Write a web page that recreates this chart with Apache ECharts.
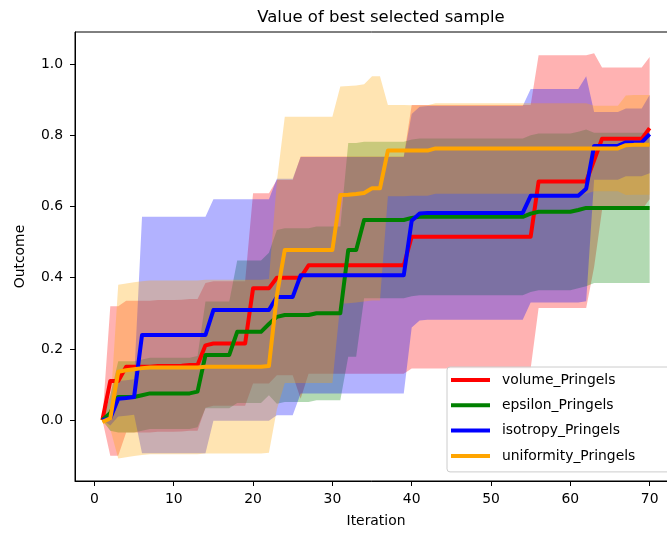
<!DOCTYPE html>
<html lang="en">
<head>
  <meta charset="UTF-8">
  <title>Value of best selected sample</title>
  <script src="https://cdn.jsdelivr.net/npm/echarts@6/dist/echarts.min.js"></script>
  <style>
    html, body { margin: 0; padding: 0; background: #fff; }
    #main { width: 667px; height: 534px; }
  </style>
</head>
<body>
  <div id="main"></div>
  <script>
    // iterations 1..70
    var iterations = [];
    for (var i = 1; i <= 70; i++) iterations.push(i);

    var names = ['volume_Pringels', 'epsilon_Pringels', 'isotropy_Pringels', 'uniformity_Pringels'];
    var colors = ['#ff0000', '#008000', '#0000ff', '#ffa500'];
    var fills = ['rgba(255,0,0,0.3)', 'rgba(0,128,0,0.3)', 'rgba(0,0,255,0.3)', 'rgba(255,165,0,0.3)'];

    var xTicks = [0, 10, 20, 30, 40, 50, 60, 70];
    var yTicks = [0, 0.2, 0.4, 0.6, 0.8, 1.0];

    // mean of best outcome per iteration
    var volumeMean = [0.00, 0.11, 0.11, 0.15, 0.15, 0.15, 0.15, 0.152, 0.152, 0.152,
      0.153, 0.155, 0.155, 0.21, 0.215, 0.215, 0.215, 0.215, 0.215, 0.37,
      0.37, 0.37, 0.40, 0.40, 0.40, 0.40, 0.435, 0.435, 0.435, 0.435,
      0.435, 0.435, 0.435, 0.435, 0.435, 0.435, 0.435, 0.435, 0.435, 0.515,
      0.515, 0.515, 0.515, 0.515, 0.515, 0.515, 0.515, 0.515, 0.515, 0.515,
      0.515, 0.515, 0.515, 0.515, 0.515, 0.67, 0.67, 0.67, 0.67, 0.67,
      0.67, 0.67, 0.73, 0.79, 0.79, 0.79, 0.79, 0.79, 0.79, 0.82];
    var epsilonMean = [0.00, 0.02, 0.065, 0.065, 0.065, 0.07, 0.075, 0.075, 0.075, 0.075,
      0.075, 0.075, 0.08, 0.183, 0.183, 0.183, 0.183, 0.248, 0.248, 0.248,
      0.248, 0.27, 0.29, 0.295, 0.295, 0.295, 0.295, 0.30, 0.30, 0.30,
      0.30, 0.478, 0.478, 0.562, 0.562, 0.562, 0.562, 0.562, 0.562, 0.568,
      0.571, 0.571, 0.571, 0.571, 0.571, 0.571, 0.571, 0.571, 0.571, 0.571,
      0.571, 0.571, 0.571, 0.571, 0.58, 0.585, 0.585, 0.585, 0.585, 0.585,
      0.59, 0.596, 0.596, 0.596, 0.596, 0.596, 0.596, 0.596, 0.596, 0.596];
    var isotropyMean = [0.00, 0.005, 0.06, 0.062, 0.065, 0.239, 0.239, 0.239, 0.239, 0.239,
      0.239, 0.239, 0.239, 0.239, 0.309, 0.309, 0.309, 0.309, 0.309, 0.309,
      0.309, 0.309, 0.346, 0.346, 0.346, 0.407, 0.407, 0.407, 0.407, 0.407,
      0.407, 0.407, 0.407, 0.407, 0.407, 0.407, 0.407, 0.407, 0.407, 0.56,
      0.58, 0.582, 0.582, 0.582, 0.582, 0.582, 0.582, 0.582, 0.582, 0.582,
      0.582, 0.582, 0.582, 0.582, 0.63, 0.63, 0.63, 0.63, 0.63, 0.63,
      0.63, 0.65, 0.77, 0.77, 0.77, 0.77, 0.78, 0.78, 0.78, 0.803];
    var uniformityMean = [-0.005, 0.005, 0.136, 0.14, 0.143, 0.146, 0.148, 0.148, 0.148, 0.148,
      0.148, 0.148, 0.148, 0.15, 0.15, 0.15, 0.15, 0.15, 0.15, 0.15,
      0.15, 0.152, 0.35, 0.478, 0.478, 0.478, 0.478, 0.478, 0.478, 0.478,
      0.632, 0.633, 0.635, 0.638, 0.651, 0.651, 0.757, 0.757, 0.757, 0.757,
      0.757, 0.757, 0.763, 0.763, 0.763, 0.763, 0.763, 0.763, 0.763, 0.763,
      0.763, 0.763, 0.763, 0.763, 0.763, 0.763, 0.763, 0.763, 0.763, 0.763,
      0.763, 0.763, 0.763, 0.763, 0.763, 0.763, 0.772, 0.773, 0.773, 0.773];

    // standard deviation (half width of the shaded band)
    var volumeStd = [0, 0.21, 0.21, 0.185, 0.185, 0.185, 0.185, 0.185, 0.185, 0.185,
      0.185, 0.185, 0.185, 0.175, 0.175, 0.175, 0.175, 0.175, 0.175, 0.267,
      0.267, 0.267, 0.274, 0.274, 0.274, 0.34, 0.305, 0.305, 0.305, 0.305,
      0.305, 0.305, 0.305, 0.305, 0.305, 0.305, 0.305, 0.305, 0.305, 0.37,
      0.37, 0.37, 0.37, 0.37, 0.37, 0.37, 0.37, 0.37, 0.37, 0.37,
      0.37, 0.37, 0.37, 0.37, 0.37, 0.355, 0.355, 0.355, 0.355, 0.355,
      0.355, 0.355, 0.30, 0.20, 0.20, 0.20, 0.20, 0.20, 0.20, 0.20];
    var epsilonStd = [0, 0.05, 0.10, 0.10, 0.10, 0.10, 0.10, 0.10, 0.10, 0.10,
      0.10, 0.10, 0.10, 0.15, 0.15, 0.15, 0.15, 0.20, 0.20, 0.20,
      0.20, 0.20, 0.244, 0.244, 0.244, 0.244, 0.244, 0.244, 0.244, 0.244,
      0.244, 0.30, 0.30, 0.22, 0.22, 0.22, 0.22, 0.22, 0.22, 0.22,
      0.22, 0.22, 0.22, 0.22, 0.22, 0.22, 0.22, 0.22, 0.22, 0.22,
      0.22, 0.22, 0.22, 0.22, 0.22, 0.22, 0.22, 0.22, 0.22, 0.22,
      0.22, 0.22, 0.211, 0.211, 0.211, 0.211, 0.211, 0.211, 0.211, 0.211];
    var isotropyStd = [0, 0.02, 0.05, 0.05, 0.05, 0.332, 0.332, 0.332, 0.332, 0.332,
      0.332, 0.332, 0.332, 0.332, 0.311, 0.311, 0.311, 0.311, 0.311, 0.311,
      0.311, 0.311, 0.332, 0.332, 0.332, 0.332, 0.332, 0.332, 0.332, 0.332,
      0.332, 0.332, 0.332, 0.332, 0.332, 0.332, 0.332, 0.332, 0.332, 0.30,
      0.30, 0.30, 0.30, 0.30, 0.30, 0.30, 0.30, 0.30, 0.30, 0.30,
      0.30, 0.30, 0.30, 0.30, 0.30, 0.30, 0.30, 0.30, 0.30, 0.30,
      0.30, 0.316, 0.095, 0.095, 0.095, 0.095, 0.095, 0.095, 0.095, 0.11];
    var uniformityStd = [0, 0.03, 0.244, 0.244, 0.244, 0.244, 0.244, 0.244, 0.244, 0.244,
      0.244, 0.244, 0.244, 0.244, 0.244, 0.244, 0.244, 0.244, 0.244, 0.244,
      0.244, 0.244, 0.32, 0.374, 0.374, 0.374, 0.374, 0.374, 0.374, 0.374,
      0.305, 0.305, 0.305, 0.305, 0.315, 0.315, 0.128, 0.128, 0.128, 0.127,
      0.127, 0.127, 0.127, 0.127, 0.127, 0.127, 0.127, 0.127, 0.127, 0.127,
      0.127, 0.127, 0.127, 0.127, 0.127, 0.127, 0.127, 0.127, 0.127, 0.127,
      0.127, 0.127, 0.12, 0.12, 0.12, 0.12, 0.14, 0.14, 0.14, 0.14];

    var means = [volumeMean, epsilonMean, isotropyMean, uniformityMean];
    var stds = [volumeStd, epsilonStd, isotropyStd, uniformityStd];

    var font = 'DejaVu Sans';
    var series = [];

    // shaded bands (mean +- std) as one polygon each, drawn through the axes
    means.forEach(function (m, k) {
      var s = stds[k];
      var rows = iterations.map(function (x, j) { return [x, m[j] - s[j], m[j] + s[j]]; });
      series.push({
        type: 'custom', silent: true, z: 1, clip: true,
        data: rows,
        encode: { x: 0, y: [1, 2] },
        renderItem: function (params, api) {
          if (params.dataIndex !== 0) return null;
          var pts = [];
          rows.forEach(function (r) { pts.push(api.coord([r[0], r[2]])); });
          for (var j = rows.length - 1; j >= 0; j--) pts.push(api.coord([rows[j][0], rows[j][1]]));
          return { type: 'polygon', shape: { points: pts }, style: { fill: fills[k] } };
        }
      });
    });

    // mean lines on top
    means.forEach(function (m, k) {
      series.push({
        name: names[k], type: 'line', symbol: 'none', z: 3,
        color: colors[k],
        lineStyle: { color: colors[k], width: 4, join: 'round' },
        data: iterations.map(function (x, j) { return [x, m[j]]; })
      });
    });

    var chart = echarts.init(document.getElementById('main'));
    chart.setOption({
      animation: false,
      backgroundColor: '#fff',
      title: {
        text: 'Value of best selected sample',
        left: 376, top: 4, textAlign: 'center',
        textStyle: { fontFamily: font, fontSize: 16.5, fontWeight: 'normal', color: '#000' }
      },
      grid: {
        left: 75, top: 32, width: 602, height: 449,
        outerBoundsMode: 'none', containLabel: false,
        show: true, borderColor: '#000', borderWidth: 1, backgroundColor: 'transparent'
      },
      legend: {
        data: names, orient: 'vertical', left: 447, top: 367,
        icon: 'rect', itemWidth: 39, itemHeight: 4, itemGap: 11.3,
        padding: [6, 40, 9, 4],
        backgroundColor: 'rgba(255,255,255,0.8)', borderColor: '#cccccc', borderWidth: 1, borderRadius: 3,
        textStyle: { fontFamily: font, fontSize: 13.9, color: '#000', padding: [0, 0, 0, 7] }
      },
      xAxis: {
        type: 'value', min: -2.45, max: 73.45,
        name: 'Iteration', nameLocation: 'middle', nameGap: 33,
        nameTextStyle: { fontFamily: font, fontSize: 13.9, color: '#000' },
        axisLine: { show: true, onZero: false, lineStyle: { color: '#000', width: 1 } },
        axisTick: { show: true, inside: false, length: 5, customValues: xTicks, lineStyle: { color: '#000' } },
        axisLabel: { customValues: xTicks, margin: 11, fontFamily: font, fontSize: 13.9, color: '#000' },
        splitLine: { show: false }
      },
      yAxis: {
        type: 'value', min: -0.171, max: 1.09,
        name: 'Outcome', nameLocation: 'middle', nameGap: 48, nameRotate: 90,
        nameTextStyle: { fontFamily: font, fontSize: 13.9, color: '#000' },
        axisLine: { show: true, onZero: false, lineStyle: { color: '#000', width: 1 } },
        axisTick: { show: true, inside: false, length: 5, customValues: yTicks, lineStyle: { color: '#000' } },
        axisLabel: {
          customValues: yTicks, margin: 12, fontFamily: font, fontSize: 13.9, color: '#000',
          formatter: function (v) { return v.toFixed(1); }
        },
        splitLine: { show: false }
      },
      series: series
    });
  </script>
</body>
</html>
